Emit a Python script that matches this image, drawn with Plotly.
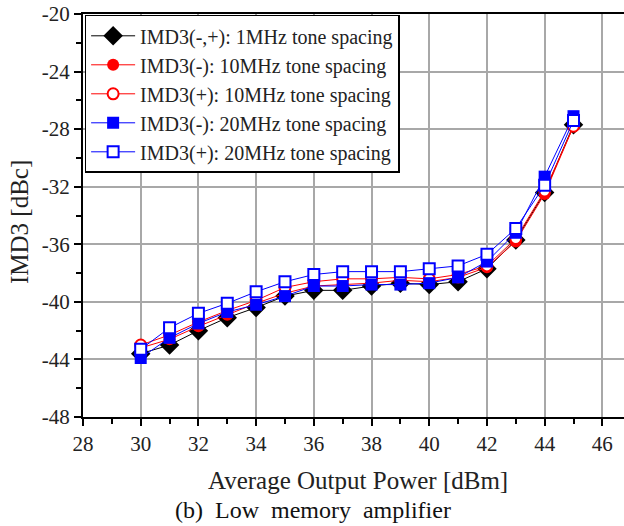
import plotly.graph_objects as go

# Average output power [dBm]
power = [30, 31, 32, 33, 34, 35, 36, 37, 38, 39, 40, 41, 42, 43, 44, 45]

# IMD3 [dBc] for each tone spacing / sideband
imd3_1mhz = [-43.6, -43.0, -42.0, -41.1, -40.4, -39.6, -39.2, -39.2,
             -38.9, -38.7, -38.8, -38.6, -37.7, -35.7, -32.4, -27.7]
imd3_lo_10mhz = [-43.2, -42.6, -41.7, -40.9, -40.1, -39.4, -38.9, -38.8,
                 -38.7, -38.5, -38.6, -38.3, -37.6, -35.8, -32.5, -27.8]
imd3_hi_10mhz = [-43.0, -42.3, -41.4, -40.6, -39.9, -39.0, -38.6, -38.4,
                 -38.4, -38.3, -38.4, -38.1, -37.5, -35.6, -32.3, -27.8]
imd3_lo_20mhz = [-43.9, -42.5, -41.5, -40.7, -40.2, -39.6, -38.9, -38.9,
                 -38.8, -38.8, -38.7, -38.3, -37.2, -35.2, -31.3, -27.1]
imd3_hi_20mhz = [-43.3, -41.8, -40.8, -40.1, -39.3, -38.6, -38.1, -37.9,
                 -37.9, -37.9, -37.7, -37.5, -36.7, -34.9, -31.9, -27.4]

x_ticks = [28, 30, 32, 34, 36, 38, 40, 42, 44, 46]
y_ticks = [-48, -44, -40, -36, -32, -28, -24, -20]

FONT = "Liberation Serif, Times New Roman, serif"

series = [
    ("IMD3(-,+): 1MHz tone spacing", imd3_1mhz, "black", "diamond", False),
    ("IMD3(-): 10MHz tone spacing", imd3_lo_10mhz, "red", "circle", False),
    ("IMD3(+): 10MHz tone spacing", imd3_hi_10mhz, "red", "circle", True),
    ("IMD3(-): 20MHz tone spacing", imd3_lo_20mhz, "blue", "square", False),
    ("IMD3(+): 20MHz tone spacing", imd3_hi_20mhz, "blue", "square", True),
]

fig = go.Figure()
for name, vals, color, symbol, hollow in series:
    if hollow:
        marker = dict(symbol=symbol, color="white", size=11,
                      line=dict(color=color, width=2))
    else:
        marker = dict(symbol=symbol, color=color,
                      size=15 if symbol == "diamond" else 12,
                      line=dict(color=color, width=0))
    fig.add_trace(go.Scatter(
        x=power, y=vals, name=name, mode="lines+markers",
        line=dict(color=color, width=1), marker=marker,
    ))

axis_common = dict(
    showline=True, linecolor="black", linewidth=2,
    showgrid=True, gridcolor="#a8a8a8", gridwidth=1.5,
    ticks="outside", ticklen=7, tickwidth=2, tickcolor="black",
    tickfont=dict(family=FONT, size=21, color="#222"),
    zeroline=False,
)

fig.update_xaxes(
    range=[28, 46.75], tickvals=x_ticks, ticktext=[str(v) for v in x_ticks],
    minor=dict(ticks="outside", ticklen=5, tickwidth=2, tickcolor="black",
               dtick=1, tick0=28, showgrid=False),
    mirror=True, **axis_common,
)
fig.update_yaxes(
    range=[-48, -20], tickvals=y_ticks, ticktext=[str(v) for v in y_ticks],
    minor=dict(ticks="outside", ticklen=5, tickwidth=2, tickcolor="black",
               dtick=2, tick0=-48, showgrid=False),
    **axis_common,
)

fig.update_layout(
    width=624, height=526,
    margin=dict(l=83, r=0, t=14, b=109),
    paper_bgcolor="white", plot_bgcolor="white",
    font=dict(family=FONT, color="#222"),
    showlegend=True,
    legend=dict(
        x=0.003, y=0.998, xanchor="left", yanchor="top",
        bgcolor="white", bordercolor="black", borderwidth=1.5,
        font=dict(family=FONT, size=20, color="#222"),
        itemwidth=44, tracegroupgap=0,
    ),
    annotations=[
        dict(text="IMD3 [dBc]", xref="paper", yref="paper",
             x=-(83 - 19) / 541, y=(417 - 222) / 403,
             textangle=-90, showarrow=False, xanchor="center", yanchor="middle",
             font=dict(family=FONT, size=25, color="#222")),
        dict(text="Average Output Power [dBm]", xref="paper", yref="paper",
             x=(358 - 83) / 541, y=-(480 - 417) / 403, showarrow=False,
             xanchor="center", yanchor="middle",
             font=dict(family=FONT, size=25, color="#222")),
        dict(text="(b)\u00a0\u00a0Low\u00a0\u00a0memory\u00a0\u00a0amplifier",
             xref="paper", yref="paper",
             x=(313 - 83) / 541, y=-(510 - 417) / 403, showarrow=False,
             xanchor="center", yanchor="middle",
             font=dict(family=FONT, size=24, color="#111")),
    ],
)

fig.write_html("out.html")
